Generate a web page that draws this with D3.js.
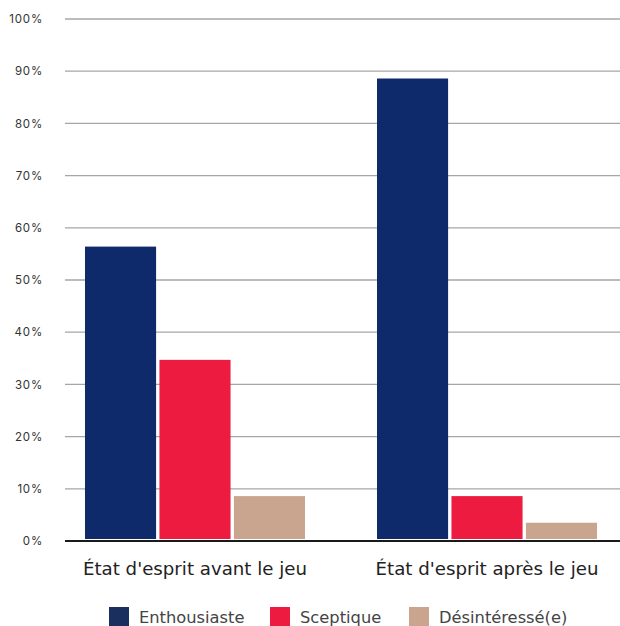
<!DOCTYPE html>
<html>
<head>
<meta charset="utf-8">
<script src="https://cdn.jsdelivr.net/npm/d3@7"></script>
<style>
  body { margin: 0; background: #fff; }
</style>
</head>
<body>
<div id="chart"></div>
<script>
// data
var groups = ["État d'esprit avant le jeu", "État d'esprit après le jeu"];
var seriesNames = ["Enthousiaste", "Sceptique", "Désintéressé(e)"];
var enthousiaste = [56.4, 88.6];
var sceptique = [34.7, 8.6];
var desinteresse = [8.6, 3.5];
var yTicks = [0, 10, 20, 30, 40, 50, 60, 70, 80, 90, 100];

var barColors = ["#0e2a6a", "#ec1b3f", "#c9a590"];
var legendColors = ["#1b2f5e", "#ec1b3f", "#c9a590"];

var rows = groups.map(function (g, i) {
    return { group: g, values: [enthousiaste[i], sceptique[i], desinteresse[i]] };
});

var width = 620, height = 626;
var plot = { left: 65, right: 620, top: 19, bottom: 541 };

var svg = d3.select("#chart").append("svg")
    .attr("width", width)
    .attr("height", height);

var y = d3.scaleLinear()
    .domain([0, 100])
    .range([plot.bottom, plot.top]);

var x0 = d3.scaleBand()
    .domain(groups)
    .range([plot.left, plot.right])
    .paddingInner(0.2466)
    .paddingOuter(0.0736)
    .align(0.465);

var x1 = d3.scaleBand()
    .domain(seriesNames)
    .range([0, x0.bandwidth()])
    .paddingInner(0.045);

// gridlines
svg.append("g")
    .selectAll("line")
    .data(yTicks.filter(function (d) { return d > 0; }))
    .enter()
    .append("line")
    .attr("x1", plot.left)
    .attr("x2", plot.right)
    .attr("y1", function (d) { return y(d); })
    .attr("y2", function (d) { return y(d); })
    .attr("stroke", "#a6a6a6")
    .attr("stroke-width", 1.3);

// y axis labels
var yAxis = d3.axisLeft(y)
    .tickValues(yTicks)
    .tickSize(0)
    .tickPadding(22)
    .tickFormat(function (d) { return d + "%"; });

var gy = svg.append("g")
    .attr("transform", "translate(" + plot.left + ",0)")
    .call(yAxis);
gy.select(".domain").remove();
gy.selectAll("text")
    .style("font-family", "Inter, 'Noto Sans', sans-serif")
    .style("font-size", "11.5px")
    .style("letter-spacing", "0.8px")
    .attr("fill", "#333");

// bars
var barGroups = svg.selectAll(".grp")
    .data(rows)
    .enter()
    .append("g")
    .attr("class", "grp")
    .attr("transform", function (d) { return "translate(" + x0(d.group) + ",0)"; });

barGroups.selectAll("rect")
    .data(function (d) {
        return d.values.map(function (v, i) { return { name: seriesNames[i], value: v, idx: i }; });
    })
    .enter()
    .append("rect")
    .attr("x", function (d) { return x1(d.name); })
    .attr("y", function (d) { return y(d.value); })
    .attr("width", x1.bandwidth())
    .attr("height", function (d) { return y(0) - y(d.value) - 2; })
    .attr("fill", function (d) { return barColors[d.idx]; });

// baseline
svg.append("line")
    .attr("x1", plot.left)
    .attr("x2", plot.right)
    .attr("y1", y(0))
    .attr("y2", y(0))
    .attr("stroke", "#1a1a1a")
    .attr("stroke-width", 2);

// category labels
var xAxis = d3.axisBottom(x0).tickSize(0).tickPadding(21);
var gx = svg.append("g")
    .attr("transform", "translate(0," + y(0) + ")")
    .call(xAxis);
gx.select(".domain").remove();
gx.selectAll("text")
    .style("font-family", "'DejaVu Sans', sans-serif")
    .style("font-size", "18.2px")
    .attr("fill", "#222");

// legend
var legendX = [109, 270, 409];
var legend = svg.append("g")
    .selectAll("g")
    .data(seriesNames)
    .enter()
    .append("g")
    .attr("transform", function (d, i) { return "translate(" + legendX[i] + ",607)"; });

legend.append("rect")
    .attr("width", 20)
    .attr("height", 19)
    .attr("fill", function (d, i) { return legendColors[i]; });

legend.append("text")
    .attr("x", 30)
    .attr("y", 16)
    .style("font-family", "'DejaVu Sans', sans-serif")
    .style("font-size", "16.3px")
    .attr("fill", "#444")
    .text(function (d) { return d; });
</script>
</body>
</html>
